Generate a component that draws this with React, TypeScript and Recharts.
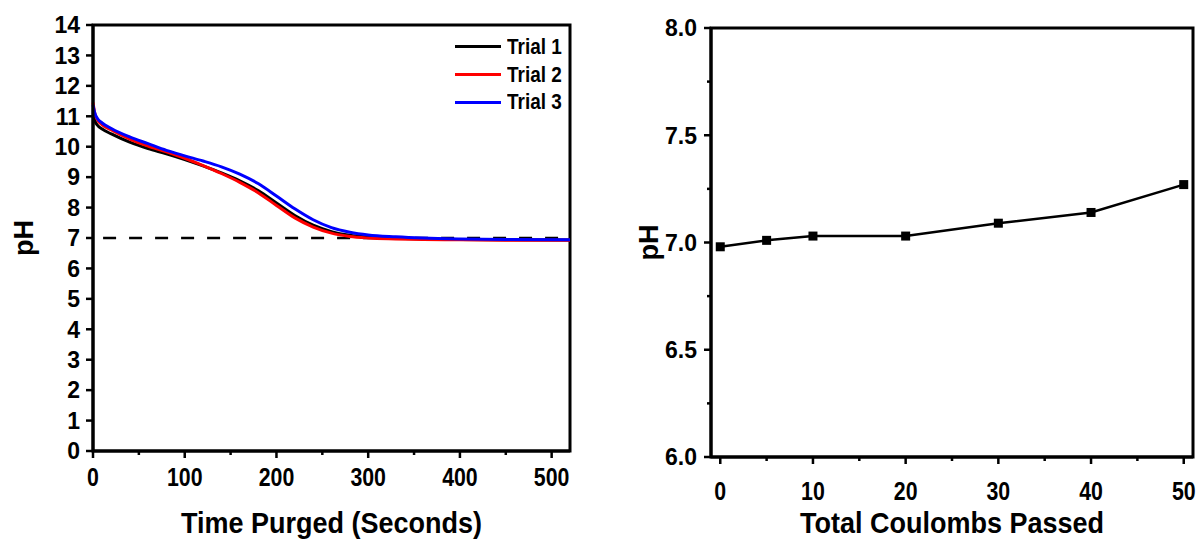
import React from 'react';
import {
    LineChart,
    Line,
    XAxis,
    YAxis,
    ReferenceLine,
    ReferenceArea,
    Legend
} from 'recharts';

// pH vs. purge time for three trials
const timeSec = [0, 2, 5, 10, 20, 40, 60, 80, 100, 120, 140, 160, 180, 200, 220, 240, 260, 280, 300, 330, 360, 400, 450, 520];
const trial1 = [11.05, 10.85, 10.7, 10.58, 10.42, 10.15, 9.94, 9.77, 9.58, 9.37, 9.14, 8.88, 8.56, 8.15, 7.74, 7.42, 7.21, 7.09, 7.03, 6.99, 6.97, 6.95, 6.94, 6.93];
const trial2 = [11.45, 11.1, 10.88, 10.72, 10.55, 10.25, 10.02, 9.83, 9.62, 9.38, 9.12, 8.83, 8.49, 8.07, 7.66, 7.36, 7.16, 7.05, 7.0, 6.97, 6.95, 6.94, 6.93, 6.93];
const trial3 = [11.37, 11.1, 10.92, 10.78, 10.6, 10.32, 10.1, 9.88, 9.7, 9.53, 9.34, 9.1, 8.79, 8.38, 7.96, 7.6, 7.34, 7.19, 7.1, 7.04, 7.0, 6.97, 6.95, 6.94];
const timeTicks = [0, 50, 100, 150, 200, 250, 300, 350, 400, 450, 500];
const phTicks = [0, 1, 2, 3, 4, 5, 6, 7, 8, 9, 10, 11, 12, 13, 14];
const neutralPh = 7;
const neutralStart = 11;
const timeMax = 520;

// pH vs. total charge passed
const coulombs = [0, 5, 10, 20, 30, 40, 50];
const phByCharge = [6.98, 7.01, 7.03, 7.03, 7.09, 7.14, 7.27];
const chargeTicks = [0, 5, 10, 15, 20, 25, 30, 35, 40, 45, 50];
const chargePhTicks = [6, 6.25, 6.5, 6.75, 7, 7.25, 7.5, 7.75, 8];

const purgeData = timeSec.map((t, i) => ({ t, trial1: trial1[i], trial2: trial2[i], trial3: trial3[i] }));
const chargeData = coulombs.map((c, i) => ({ c, ph: phByCharge[i] }));

const FONT = "'Liberation Sans', Arial, Helvetica, sans-serif";
const AXIS = { stroke: '#000', strokeWidth: 3 };

const isMajor = (v: number, step: number) => Math.abs(v / step - Math.round(v / step)) < 1e-6;

function LeftTick({ x, y, payload, step, fmt, gap, fontSize }: any) {
    const v = payload.value;
    const major = isMajor(v, step);
    return (
        <g>
            <line x1={x} x2={x - (major ? 7 : 4)} y1={y} y2={y} stroke="#000" strokeWidth={2.5} />
            {major && (
                <text x={x - gap} y={y} dy="0.36em" textAnchor="end" fontFamily={FONT} fontWeight={700} fontSize={fontSize} fill="#000">
                    {fmt(v)}
                </text>
            )}
        </g>
    );
}

function BottomTick({ x, y, payload, step, dy, fontSize }: any) {
    const v = payload.value;
    const major = isMajor(v, step);
    return (
        <g>
            <line x1={x} x2={x} y1={y} y2={y + (major ? 7 : 4)} stroke="#000" strokeWidth={2.5} />
            {major && (
                <text transform={`translate(${x} ${y + dy}) scale(0.82 1)`} textAnchor="middle" fontFamily={FONT} fontWeight={700} fontSize={fontSize} fill="#000">
                    {v}
                </text>
            )}
        </g>
    );
}

function XTitle({ viewBox, text, dy }: any) {
    const cx = viewBox.x + viewBox.width / 2;
    return (
        <text transform={`translate(${cx} ${viewBox.y + dy}) scale(0.9 1)`} textAnchor="middle" fontFamily={FONT} fontWeight={700} fontSize={30} fill="#000">
            {text}
        </text>
    );
}

function YTitle({ viewBox, x }: any) {
    const cy = viewBox.y + viewBox.height / 2;
    return (
        <text transform={`translate(${x} ${cy}) rotate(-90)`} textAnchor="middle" fontFamily={FONT} fontWeight={700} fontSize={27} fill="#000">
            pH
        </text>
    );
}

function TrialLegend({ payload }: any) {
    return (
        <div style={{ fontFamily: FONT, fontWeight: 700, color: '#000' }}>
            {(payload ?? []).map((entry: any) => (
                <div key={entry.value} style={{ display: 'flex', alignItems: 'center', height: 27.7 }}>
                    <span style={{ width: 46, height: 3, background: entry.color, marginRight: 6 }} />
                    <span style={{ fontSize: 22, lineHeight: 1, display: 'inline-block', transform: 'scaleX(0.86)', transformOrigin: 'left center' }}>
                        {entry.value}
                    </span>
                </div>
            ))}
        </div>
    );
}

function Square({ cx, cy, index }: any) {
    return <rect key={index} x={cx - 4.5} y={cy - 4.5} width={9} height={9} fill="#000" />;
}

export default function App() {
    return (
        <div style={{ position: 'absolute', left: 0, top: 0, width: 1204, height: 541, overflow: 'hidden', background: '#fff' }}>
            <div style={{ position: 'absolute', left: 0, top: 0 }}>
                <LineChart width={600} height={541} data={purgeData} margin={{ top: 25, right: 30, bottom: 0, left: 0 }}>
                    <XAxis
                        dataKey="t"
                        type="number"
                        domain={[0, timeMax]}
                        ticks={timeTicks}
                        interval={0}
                        height={90}
                        tickSize={0}
                        tickMargin={0}
                        axisLine={AXIS}
                        tick={(p: any) => <BottomTick {...p} step={100} dy={35} fontSize={26} />}
                        label={(p: any) => <XTitle viewBox={p.viewBox} text="Time Purged (Seconds)" dy={82} />}
                    />
                    <YAxis
                        type="number"
                        domain={[0, 14]}
                        ticks={phTicks}
                        interval={0}
                        width={93}
                        tickSize={0}
                        tickMargin={0}
                        axisLine={AXIS}
                        tick={(p: any) => <LeftTick {...p} step={1} gap={13} fontSize={23} fmt={(v: number) => String(v)} />}
                        label={(p: any) => <YTitle viewBox={p.viewBox} x={33} />}
                    />
                    <ReferenceArea x1={0} x2={timeMax} y1={0} y2={14} fill="none" stroke="#000" strokeWidth={3} />
                    <ReferenceLine
                        segment={[{ x: neutralStart, y: neutralPh }, { x: timeMax, y: neutralPh }]}
                        stroke="#000"
                        strokeWidth={2.5}
                        strokeDasharray="13 13"
                    />
                    <Line type="monotone" dataKey="trial1" name="Trial 1" stroke="#000000" strokeWidth={3} dot={false} isAnimationActive={false} />
                    <Line type="monotone" dataKey="trial2" name="Trial 2" stroke="#ff0000" strokeWidth={3} dot={false} isAnimationActive={false} />
                    <Line type="monotone" dataKey="trial3" name="Trial 3" stroke="#0000ff" strokeWidth={3} dot={false} isAnimationActive={false} />
                    <Legend
                        layout="vertical"
                        align="center"
                        verticalAlign="middle"
                        wrapperStyle={{ left: 455, top: 33, width: 120, height: 84 }}
                        content={(p: any) => <TrialLegend payload={p.payload} />}
                    />
                </LineChart>
            </div>
            <div style={{ position: 'absolute', left: 600, top: 0 }}>
                <LineChart width={604} height={541} data={chargeData} margin={{ top: 28, right: 11, bottom: 0, left: 0 }}>
                    <XAxis
                        dataKey="c"
                        type="number"
                        domain={[-1, 51]}
                        ticks={chargeTicks}
                        interval={0}
                        height={84}
                        tickSize={0}
                        tickMargin={0}
                        axisLine={AXIS}
                        tick={(p: any) => <BottomTick {...p} step={10} dy={43} fontSize={26} />}
                        label={(p: any) => <XTitle viewBox={p.viewBox} text="Total Coulombs Passed" dy={76} />}
                    />
                    <YAxis
                        type="number"
                        domain={[6, 8]}
                        ticks={chargePhTicks}
                        interval={0}
                        width={111}
                        tickSize={0}
                        tickMargin={0}
                        axisLine={AXIS}
                        tick={(p: any) => <LeftTick {...p} step={0.5} gap={14} fontSize={23} fmt={(v: number) => v.toFixed(1)} />}
                        label={(p: any) => <YTitle viewBox={p.viewBox} x={58} />}
                    />
                    <ReferenceArea x1={-1} x2={51} y1={6} y2={8} fill="none" stroke="#000" strokeWidth={3} />
                    <Line
                        type="linear"
                        dataKey="ph"
                        stroke="#000"
                        strokeWidth={2.5}
                        dot={(p: any) => <Square {...p} />}
                        isAnimationActive={false}
                    />
                </LineChart>
            </div>
        </div>
    );
}
